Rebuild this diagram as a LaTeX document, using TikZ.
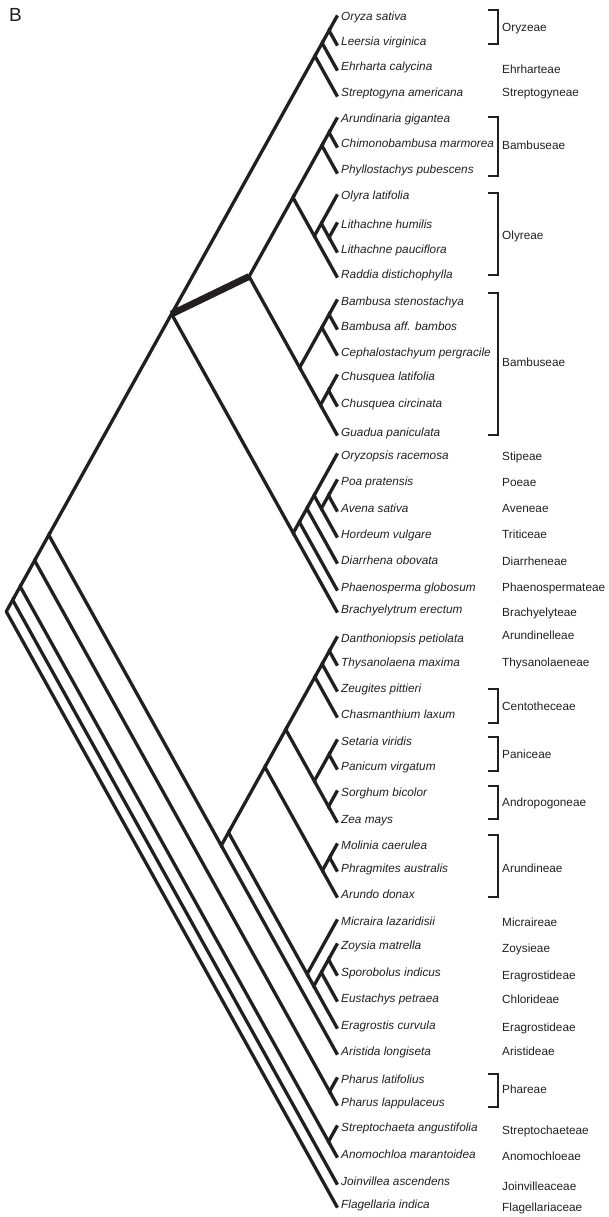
\documentclass[tikz,border=0pt]{standalone}
\usepackage{fontspec}
\setmainfont{Liberation Sans}
\definecolor{ink}{RGB}{35,31,32}
\newcommand\mytip[3]{\coordinate (t#1) at (336,#2); \node[sp] (s#1) at (341,#2) {#3};}
\newcommand\myclade[5]{\coordinate (#1) at ({336-(#3-#2)/3.6},{(#2+#3)/2}); \draw[br] (#4) -- (#1) -- (#5);}
\newcommand\mybr[2]{\draw[bk] (488,#1) -- (498,#1) -- (498,#2) -- (488,#2);}
\begin{document}
\begin{tikzpicture}[x=1pt,y=-1pt,
  br/.style={line width=3.3pt, line join=round, draw=ink, shorten <=-3pt, shorten >=-3pt},
  thk/.style={line width=6.8pt, draw=ink},
  bk/.style={line width=1.4pt, draw=ink},
  sp/.style={anchor=west, text=ink, font=\fontsize{11.8}{12}\selectfont\itshape, inner sep=0pt, text height=8.5pt, text depth=2.5pt},
  tr/.style={anchor=west, text=ink, font=\fontsize{11.8}{12}\selectfont, inner sep=0pt, text height=8.5pt, text depth=2.5pt}]
\useasboundingbox (0,0) rectangle (609,1217);
\node[font=\fontsize{19}{19}\selectfont, text=ink, anchor=base west, inner sep=0pt] (lab) at (9,22) {B};
\mytip{1}{18}{Oryza sativa}
\mytip{2}{43}{Leersia virginica}
\mytip{3}{68}{Ehrharta calycina}
\mytip{4}{94}{Streptogyna americana}
\mytip{5}{120}{Arundinaria gigantea}
\mytip{6}{145}{Chimonobambusa marmorea}
\mytip{7}{171}{Phyllostachys pubescens}
\mytip{8}{197}{Olyra latifolia}
\mytip{9}{225}{Lithachne humilis}
\mytip{10}{250}{Lithachne pauciflora}
\mytip{11}{275}{Raddia distichophylla}
\mytip{12}{302}{Bambusa stenostachya}
\mytip{13}{327}{Bambusa aff. bambos}
\mytip{14}{353}{Cephalostachyum pergracile}
\mytip{15}{377}{Chusquea latifolia}
\mytip{16}{404}{Chusquea circinata}
\mytip{17}{433}{Guadua paniculata}
\mytip{18}{456}{Oryzopsis racemosa}
\mytip{19}{482}{Poa pratensis}
\mytip{20}{509}{Avena sativa}
\mytip{21}{535}{Hordeum vulgare}
\mytip{22}{561}{Diarrhena obovata}
\mytip{23}{588}{Phaenosperma globosum}
\mytip{24}{610}{Brachyelytrum erectum}
\mytip{25}{639}{Danthoniopsis petiolata}
\mytip{26}{663}{Thysanolaena maxima}
\mytip{27}{689}{Zeugites pittieri}
\mytip{28}{715}{Chasmanthium laxum}
\mytip{29}{742}{Setaria viridis}
\mytip{30}{767}{Panicum virgatum}
\mytip{31}{793}{Sorghum bicolor}
\mytip{32}{820}{Zea mays}
\mytip{33}{846}{Molinia caerulea}
\mytip{34}{869}{Phragmites australis}
\mytip{35}{895}{Arundo donax}
\mytip{36}{922}{Micraira lazaridisii}
\mytip{37}{946}{Zoysia matrella}
\mytip{38}{973}{Sporobolus indicus}
\mytip{39}{999}{Eustachys petraea}
\mytip{40}{1026}{Eragrostis curvula}
\mytip{41}{1052}{Aristida longiseta}
\mytip{42}{1080}{Pharus latifolius}
\mytip{43}{1103}{Pharus lappulaceus}
\mytip{44}{1128}{Streptochaeta angustifolia}
\mytip{45}{1155}{Anomochloa marantoidea}
\mytip{46}{1182}{Joinvillea ascendens}
\mytip{47}{1205}{Flagellaria indica}
% clades
\myclade{nOL}{18}{43}{t1}{t2}
\myclade{nOLE}{18}{68}{nOL}{t3}
\myclade{nORY}{18}{94}{nOLE}{t4}
\myclade{nAC}{120}{145}{t5}{t6}
\myclade{nB1}{120}{171}{nAC}{t7}
\myclade{nLL}{225}{250}{t9}{t10}
\myclade{nOLL}{197}{250}{t8}{nLL}
\myclade{nOLY}{197}{275}{nOLL}{t11}
\myclade{nB1O}{120}{275}{nB1}{nOLY}
\myclade{nBB}{302}{327}{t12}{t13}
\myclade{nB2a}{302}{353}{nBB}{t14}
\myclade{nCC}{377}{404}{t15}{t16}
\myclade{nB2b}{377}{433}{nCC}{t17}
\myclade{nB2}{302}{433}{nB2a}{nB2b}
\myclade{nBAM}{120}{433}{nB1O}{nB2}
\myclade{nPA}{482}{509}{t19}{t20}
\myclade{nPAH}{482}{535}{nPA}{t21}
\myclade{nSt}{456}{535}{t18}{nPAH}
\myclade{nDi}{456}{561}{nSt}{t22}
\myclade{nPh}{456}{588}{nDi}{t23}
\myclade{nPOO}{456}{610}{nPh}{t24}
\myclade{nBEP}{18}{610}{nORY}{nPOO}
\draw[thk] (nBEP) -- (nBAM);
\myclade{nDT}{639}{663}{t25}{t26}
\myclade{nDTZ}{639}{689}{nDT}{t27}
\myclade{nD4}{639}{715}{nDTZ}{t28}
\myclade{nSP}{742}{767}{t29}{t30}
\myclade{nSZ}{793}{820}{t31}{t32}
\myclade{nPAN}{742}{820}{nSP}{nSZ}
\myclade{nD8}{639}{820}{nD4}{nPAN}
\myclade{nMP}{846}{869}{t33}{t34}
\myclade{nARU}{846}{895}{nMP}{t35}
\myclade{nPAC1}{639}{895}{nD8}{nARU}
\myclade{nZS}{946}{973}{t37}{t38}
\myclade{nZSE}{946}{999}{nZS}{t39}
\myclade{nZSEE}{946}{1026}{nZSE}{t40}
\myclade{nCHL}{922}{1026}{t36}{nZSEE}
\myclade{nPAC2}{639}{1026}{nPAC1}{nCHL}
\myclade{nPAC}{639}{1052}{nPAC2}{t41}
\myclade{nBP}{18}{1052}{nBEP}{nPAC}
\myclade{nPHA}{1080}{1103}{t42}{t43}
\myclade{nP43}{18}{1103}{nBP}{nPHA}
\myclade{nSA}{1128}{1155}{t44}{t45}
\myclade{nPOA}{18}{1155}{nP43}{nSA}
\myclade{nJ}{18}{1182}{nPOA}{t46}
\myclade{nROOT}{18}{1205}{nJ}{t47}
% tribes
\node[tr] (r1) at (502,29) {Oryzeae};
\node[tr] (r2) at (502,71) {Ehrharteae};
\node[tr] (r3) at (502,94) {Streptogyneae};
\node[tr] (r4) at (502,147) {Bambuseae};
\node[tr] (r5) at (502,236) {Olyreae};
\node[tr] (r6) at (502,363) {Bambuseae};
\node[tr] (r7) at (502,457) {Stipeae};
\node[tr] (r8) at (502,483) {Poeae};
\node[tr] (r9) at (502,509) {Aveneae};
\node[tr] (r10) at (502,535) {Triticeae};
\node[tr] (r11) at (502,562) {Diarrheneae};
\node[tr] (r12) at (502,588) {Phaenospermateae};
\node[tr] (r13) at (502,613) {Brachyelyteae};
\node[tr] (r14) at (502,636) {Arundinelleae};
\node[tr] (r15) at (502,663) {Thysanolaeneae};
\node[tr] (r16) at (502,707) {Centotheceae};
\node[tr] (r17) at (502,755) {Paniceae};
\node[tr] (r18) at (502,803) {Andropogoneae};
\node[tr] (r19) at (502,869) {Arundineae};
\node[tr] (r20) at (502,923) {Micraireae};
\node[tr] (r21) at (502,949) {Zoysieae};
\node[tr] (r22) at (502,976) {Eragrostideae};
\node[tr] (r23) at (502,1000) {Chlorideae};
\node[tr] (r24) at (502,1028) {Eragrostideae};
\node[tr] (r25) at (502,1052) {Aristideae};
\node[tr] (r26) at (502,1090) {Phareae};
\node[tr] (r27) at (502,1131) {Streptochaeteae};
\node[tr] (r28) at (502,1157) {Anomochloeae};
\node[tr] (r29) at (502,1187) {Joinvilleaceae};
\node[tr] (r30) at (502,1208) {Flagellariaceae};
% brackets
\mybr{10}{44}
\mybr{117}{176}
\mybr{193}{275}
\mybr{293}{435}
\mybr{689}{723}
\mybr{737}{771}
\mybr{786}{819}
\mybr{835}{897}
\mybr{1074}{1107}
\end{tikzpicture}
\end{document}
